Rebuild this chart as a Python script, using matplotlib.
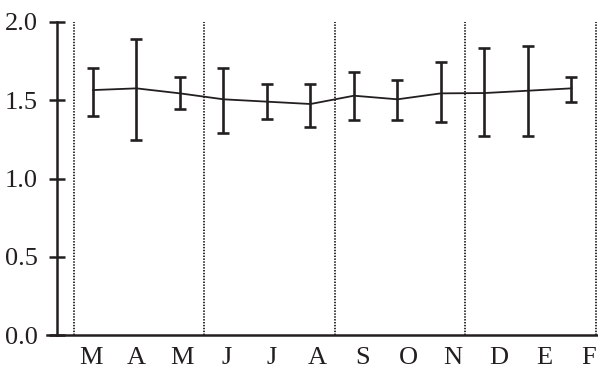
import numpy as np
import matplotlib.pyplot as plt

months = ['M', 'A', 'M', 'J', 'J', 'A', 'S', 'O', 'N', 'D', 'E', 'F']
means = [1.565, 1.576, 1.544, 1.506, 1.491, 1.476, 1.529, 1.506, 1.544, 1.546, 1.561, 1.576]
upper = [1.704, 1.889, 1.646, 1.704, 1.604, 1.604, 1.679, 1.629, 1.747, 1.832, 1.847, 1.646]
lower = [1.401, 1.246, 1.446, 1.289, 1.378, 1.331, 1.374, 1.374, 1.359, 1.274, 1.274, 1.491]
yticks = [0.0, 0.5, 1.0, 1.5, 2.0]

ink = '#231f20'
plt.rcParams['font.family'] = ['Liberation Serif', 'DejaVu Serif']

x = np.arange(len(months))
m = np.array(means)
yerr = [m - np.array(lower), np.array(upper) - m]

fig = plt.figure(figsize=(5.98, 3.70), dpi=100)
ax = fig.add_axes([47/598, 35/370, 551/598, 313/370])

ax.errorbar(x, m, yerr=yerr, color=ink, lw=1.3, elinewidth=1.9,
            capsize=4.3, capthick=1.9)

# season separators
for xv in np.arange(-0.44, 12, 3):
    ax.axvline(xv, color=ink, lw=1.3, ls=(0, (0.8, 0.8)))

ax.set_xlim(-1.057, 11.61)
ax.set_ylim(0, 2.0)

ax.spines['top'].set_visible(False)
ax.spines['right'].set_visible(False)
ax.spines['left'].set_position(('data', -0.83))
for s in ['left', 'bottom']:
    ax.spines[s].set_linewidth(1.8)
    ax.spines[s].set_color(ink)

ax.set_yticks(yticks)
ax.set_yticklabels(['%.1f' % v for v in yticks])
ax.tick_params(axis='y', direction='inout', length=11, width=1.8, color=ink,
               labelsize=19, labelcolor=ink, pad=8)

ax.set_xticks(x * 1.041 - 0.046)
ax.set_xticklabels(months)
ax.tick_params(axis='x', length=0, labelsize=19, labelcolor=ink, pad=8.5)

fig.savefig('out.png', dpi=100)
